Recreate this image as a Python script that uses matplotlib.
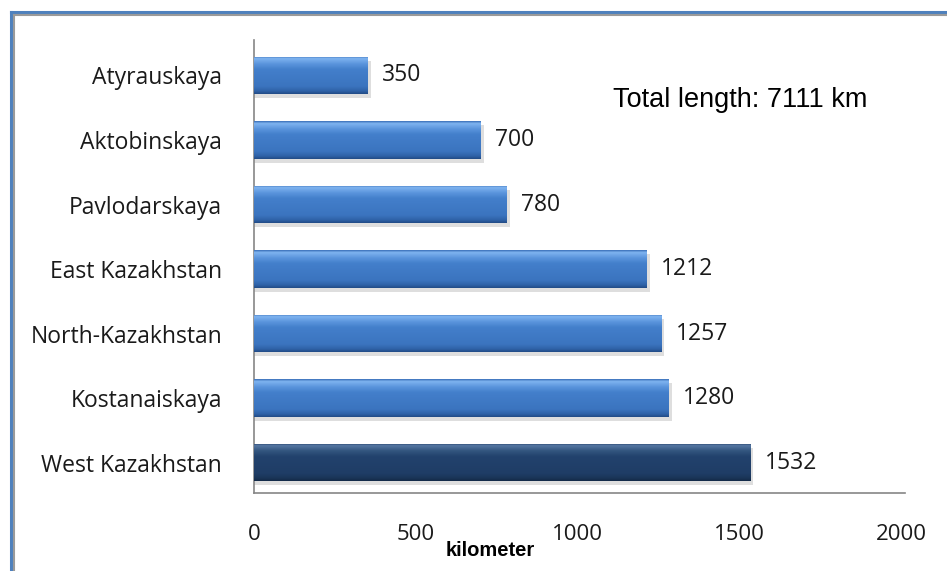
import numpy as np
import matplotlib
matplotlib.use('Agg')
import matplotlib.pyplot as plt
from matplotlib.lines import Line2D
from matplotlib.colors import LinearSegmentedColormap

# 지역별 길이 데이터 (아래에서 위 순서)
regions = ['West Kazakhstan', 'Kostanaiskaya', 'North-Kazakhstan', 'East Kazakhstan',
           'Pavlodarskaya', 'Aktobinskaya', 'Atyrauskaya']
lengths = [1532, 1280, 1257, 1212, 780, 700, 350]
xticks = [0, 500, 1000, 1500, 2000]

fig = plt.figure(figsize=(9.47, 5.71), dpi=100)
ax = fig.add_axes([0.2682, 0.1366, 0.6875, 0.7934])

blue_cmap = LinearSegmentedColormap.from_list('b', [
    (0.0, '#3a6fb8'), (0.06, '#7fb4f0'), (0.2, '#5b95dd'), (0.35, '#437fcb'),
    (0.8, '#3b74bf'), (0.92, '#2f62a8'), (1.0, '#224c86')])
navy_cmap = LinearSegmentedColormap.from_list('n', [
    (0.0, '#1d3a60'), (0.06, '#5677a3'), (0.2, '#33567f'), (0.35, '#22426d'),
    (0.8, '#1f3d66'), (0.92, '#1a3558'), (1.0, '#132a47')])
grad = np.linspace(0, 1, 128).reshape(-1, 1)

h = 0.58
for i, (name, v) in enumerate(zip(regions, lengths)):
    cmap = navy_cmap if i == 0 else blue_cmap
    # 그림자
    ax.barh(i - 0.06, v + 10, height=h, left=0, color='#000000', alpha=0.13, zorder=1)
    bar = ax.barh(i, v, height=h, color='#3b74bf', zorder=2)[0]
    im = ax.imshow(grad, cmap=cmap, aspect='auto', extent=[0, v, i - h / 2, i + h / 2],
                   origin='upper', zorder=3)
    im.set_clip_path(bar)
    ax.text(v + 45, i, str(v), va='center', ha='left', fontsize=16.5,
            family='Open Sans', color='#1a1a1a')

ax.set_xlim(0, 2010)
ax.set_ylim(-0.47, 6.55)
ax.set_yticks(range(len(regions)))
ax.set_yticklabels(regions, family='Open Sans', fontsize=16.5, color='#1a1a1a')
ax.set_xticks(xticks)
ax.set_xticklabels([str(t) for t in xticks], family='Open Sans', fontsize=16, color='#1a1a1a')
ax.tick_params(axis='both', length=0)
ax.tick_params(axis='x', pad=22)
ax.tick_params(axis='y', pad=23)
for s in ['top', 'right']:
    ax.spines[s].set_visible(False)
for s in ['left', 'bottom']:
    ax.spines[s].set_color('#868686')
    ax.spines[s].set_linewidth(1.2)

fig.text(490 / 947, 1 - 551 / 571, 'kilometer', family='Liberation Sans', fontweight='bold',
         fontsize=14.5, ha='center', va='center')
fig.text(613 / 947, 1 - 100 / 571, 'Total length: 7111 km', family='Liberation Sans',
         fontsize=19.5, ha='left', va='center', color='black')

# 테두리
fig.add_artist(Line2D([11 / 947, 11 / 947], [0, 1 - 12 / 571], color='#4f81bd', lw=2.2))
fig.add_artist(Line2D([11 / 947, 1], [1 - 12 / 571, 1 - 12 / 571], color='#4f81bd', lw=2.2))
fig.add_artist(Line2D([14 / 947, 14 / 947], [0, 1 - 15 / 571], color='#9a9a9a', lw=1.5))
fig.add_artist(Line2D([14 / 947, 1], [1 - 15 / 571, 1 - 15 / 571], color='#9a9a9a', lw=1.5))

plt.savefig('out.png', dpi=100)
